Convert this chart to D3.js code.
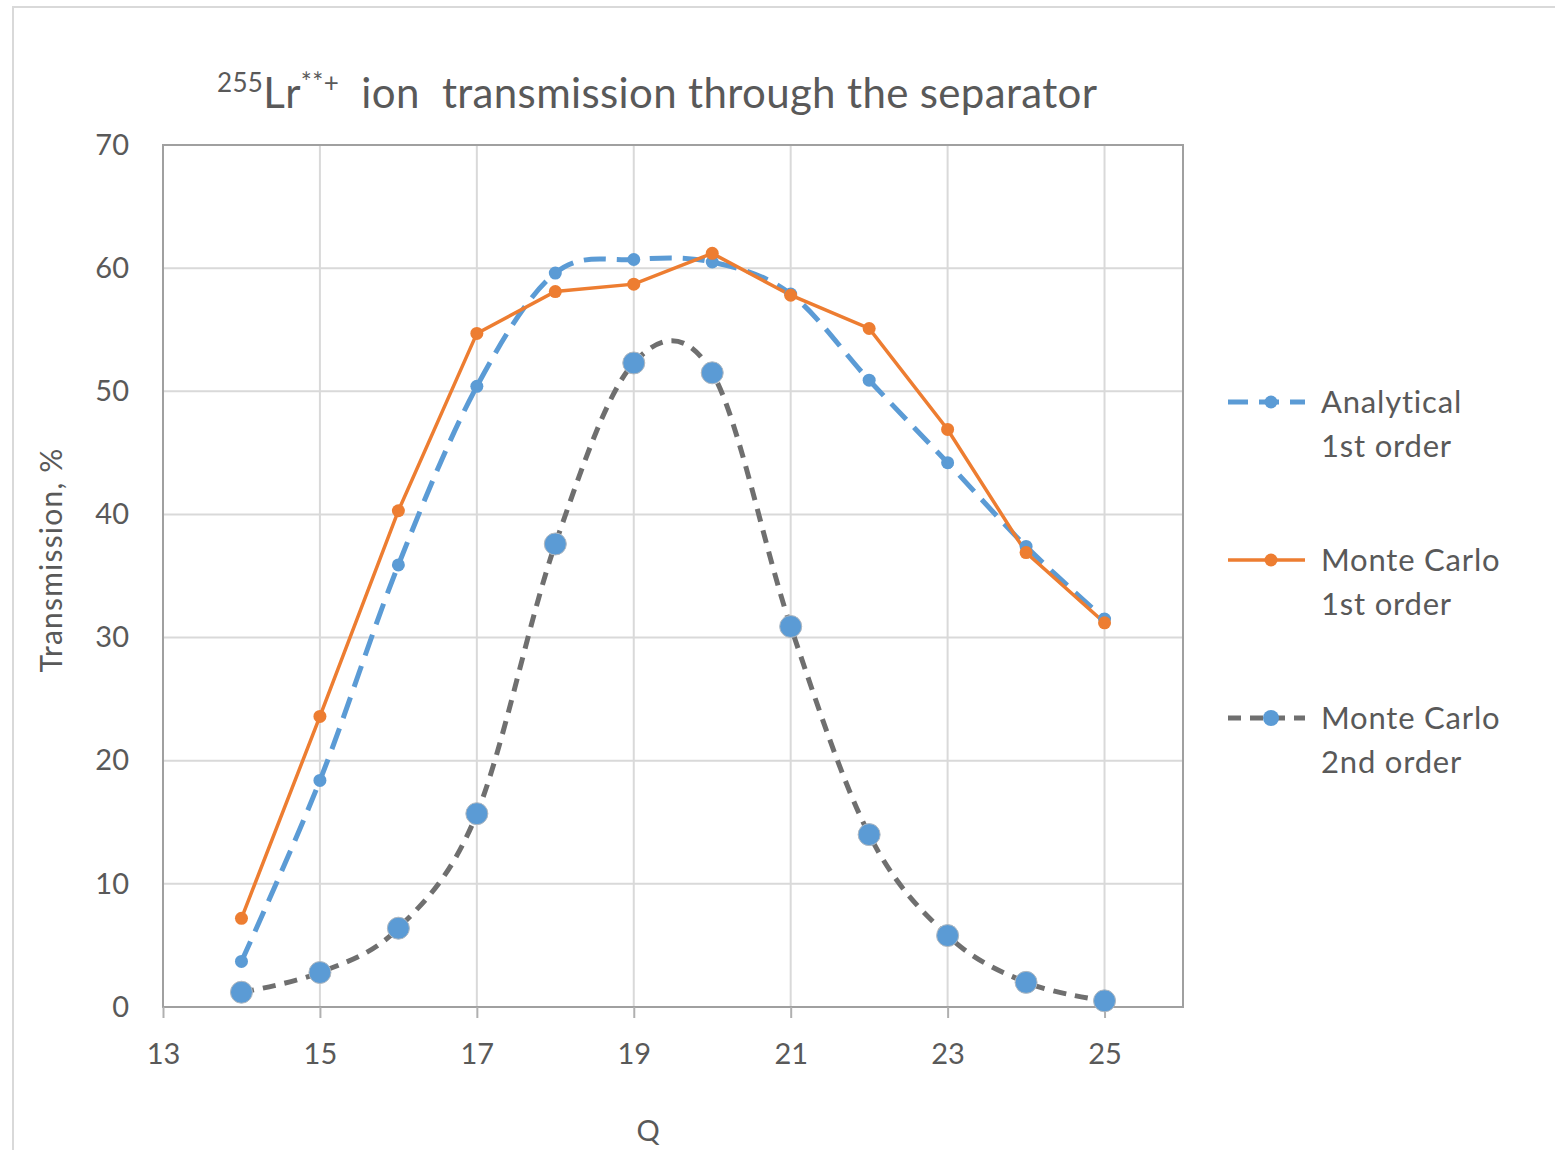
<!DOCTYPE html>
<html>
<head>
<meta charset="utf-8">
<script src="https://cdn.jsdelivr.net/npm/d3@7"></script>
<style>
  html, body { margin: 0; padding: 0; background: #fff; }
  svg text { font-family: Lato, "Open Sans", sans-serif; }
</style>
</head>
<body>
<svg id="chart" width="1555" height="1150"></svg>
<script>
// Charge state Q
const charges = [14, 15, 16, 17, 18, 19, 20, 21, 22, 23, 24, 25];
// Transmission, %
const analytical1st = [3.7, 18.4, 35.9, 50.4, 59.6, 60.7, 60.5, 57.9, 50.9, 44.2, 37.4, 31.5];
const monteCarlo1st = [7.2, 23.6, 40.3, 54.7, 58.1, 58.7, 61.2, 57.8, 55.1, 46.9, 36.9, 31.2];
const monteCarlo2nd = [1.2, 2.8, 6.4, 15.7, 37.6, 52.3, 51.5, 30.9, 14.0, 5.8, 2.0, 0.5];

const xTicks = [13, 15, 17, 19, 21, 23, 25];
const yTicks = [0, 10, 20, 30, 40, 50, 60, 70];

const seriesNames = [["Analytical", "1st order"], ["Monte Carlo", "1st order"], ["Monte Carlo", "2nd order"]];

const svg = d3.select("#chart");

// chart frame
svg.append("rect").attr("x", 13).attr("y", 7).attr("width", 1700).attr("height", 1300)
  .attr("fill", "#fff").attr("stroke", "#d9d9d9").attr("stroke-width", 2);

const plot = { left: 163, top: 145, right: 1183, bottom: 1007 };
const x = d3.scaleLinear().domain([13, 26]).range([plot.left, plot.right]);
const y = d3.scaleLinear().domain([0, 70]).range([plot.bottom, plot.top]);

// gridlines
const grid = svg.append("g").attr("stroke", "#d9d9d9").attr("stroke-width", 2);
grid.selectAll("line.h").data(yTicks).join("line").attr("class", "h")
  .attr("x1", plot.left).attr("x2", plot.right).attr("y1", d => y(d)).attr("y2", d => y(d));
grid.selectAll("line.v").data(xTicks).join("line").attr("class", "v")
  .attr("y1", plot.top).attr("y2", plot.bottom).attr("x1", d => x(d)).attr("x2", d => x(d));

// plot border
svg.append("rect").attr("x", plot.left).attr("y", plot.top)
  .attr("width", plot.right - plot.left).attr("height", plot.bottom - plot.top)
  .attr("fill", "none").attr("stroke", "#a0a0a0").attr("stroke-width", 2);

// x axis
const xAxis = svg.append("g").attr("transform", `translate(0,${plot.bottom})`)
  .call(d3.axisBottom(x).tickValues(xTicks).tickSize(11).tickPadding(25).tickFormat(d3.format("d")));
xAxis.select(".domain").remove();
xAxis.selectAll(".tick line").attr("stroke", "#b0b0b0").attr("stroke-width", 2);
xAxis.selectAll(".tick text").attr("fill", "#595959").style("font-size", "29px");

// y axis
const yAxis = svg.append("g").attr("transform", `translate(${plot.left},0)`)
  .call(d3.axisLeft(y).tickValues(yTicks).tickSize(0).tickPadding(34).tickFormat(d3.format("d")));
yAxis.select(".domain").remove();
yAxis.selectAll(".tick text").attr("fill", "#595959").style("font-size", "29px");

// title
const title = svg.append("text").attr("x", 217).attr("y", 108)
  .attr("fill", "#595959").style("font-size", "42px").style("letter-spacing", "0.35px");
title.append("tspan").text("255").style("font-size", "26px").attr("dy", -16);
title.append("tspan").text("Lr").attr("dy", 16);
title.append("tspan").text("**+").style("font-size", "26px").attr("dy", -16);
title.append("tspan").text("  ion  transmission through the separator").attr("dy", 16)
  .style("white-space", "pre");

// axis titles
svg.append("text").attr("transform", "translate(62,560) rotate(-90)")
  .attr("text-anchor", "middle").attr("fill", "#595959").style("font-size", "30px")
  .style("letter-spacing", "1.2px").text("Transmission, %");
svg.append("text").attr("x", 648).attr("y", 1141).attr("text-anchor", "middle")
  .attr("fill", "#595959").style("font-size", "29px").text("Q");

const pts = vals => charges.map((c, i) => [x(c), y(vals[i])]);
const smooth = d3.line().curve(d3.curveCardinal.tension(0));
const straight = d3.line();

const blue = "#5b9bd5", orange = "#ed7d31", gray = "#6f6f6f";

// Monte Carlo 2nd order
svg.append("path").attr("d", smooth(pts(monteCarlo2nd))).attr("fill", "none")
  .attr("stroke", gray).attr("stroke-width", 5).attr("stroke-dasharray", "13 9");
// Analytical 1st order
svg.append("path").attr("d", smooth(pts(analytical1st))).attr("fill", "none")
  .attr("stroke", blue).attr("stroke-width", 5).attr("stroke-dasharray", "22 11");
// Monte Carlo 1st order
svg.append("path").attr("d", straight(pts(monteCarlo1st))).attr("fill", "none")
  .attr("stroke", orange).attr("stroke-width", 3.5);

svg.append("g").selectAll("circle").data(pts(monteCarlo2nd)).join("circle")
  .attr("cx", d => d[0]).attr("cy", d => d[1]).attr("r", 11)
  .attr("fill", blue).attr("stroke", "#b0b8c0").attr("stroke-width", 1);
svg.append("g").selectAll("circle").data(pts(analytical1st)).join("circle")
  .attr("cx", d => d[0]).attr("cy", d => d[1]).attr("r", 6.5).attr("fill", blue);
svg.append("g").selectAll("circle").data(pts(monteCarlo1st)).join("circle")
  .attr("cx", d => d[0]).attr("cy", d => d[1]).attr("r", 6.5).attr("fill", orange);

// legend
const legend = svg.append("g");
const legY = [402, 560, 718];
const legStyles = [
  { stroke: blue, dash: "20 11", width: 5, r: 6.5, fill: blue },
  { stroke: orange, dash: null, width: 3.5, r: 6.5, fill: orange },
  { stroke: gray, dash: "13 9", width: 5, r: 8, fill: blue }
];
legStyles.forEach((s, i) => {
  legend.append("line").attr("x1", 1228).attr("x2", 1305).attr("y1", legY[i]).attr("y2", legY[i])
    .attr("stroke", s.stroke).attr("stroke-width", s.width).attr("stroke-dasharray", s.dash);
  legend.append("circle").attr("cx", 1271).attr("cy", legY[i]).attr("r", s.r).attr("fill", s.fill);
  const t = legend.append("text").attr("x", 1321).attr("y", legY[i] + 11)
    .attr("fill", "#595959").style("font-size", "31px").style("letter-spacing", "0.8px");
  t.append("tspan").text(seriesNames[i][0]);
  t.append("tspan").attr("x", 1321).attr("dy", 44).text(seriesNames[i][1]);
});
</script>
</body>
</html>
